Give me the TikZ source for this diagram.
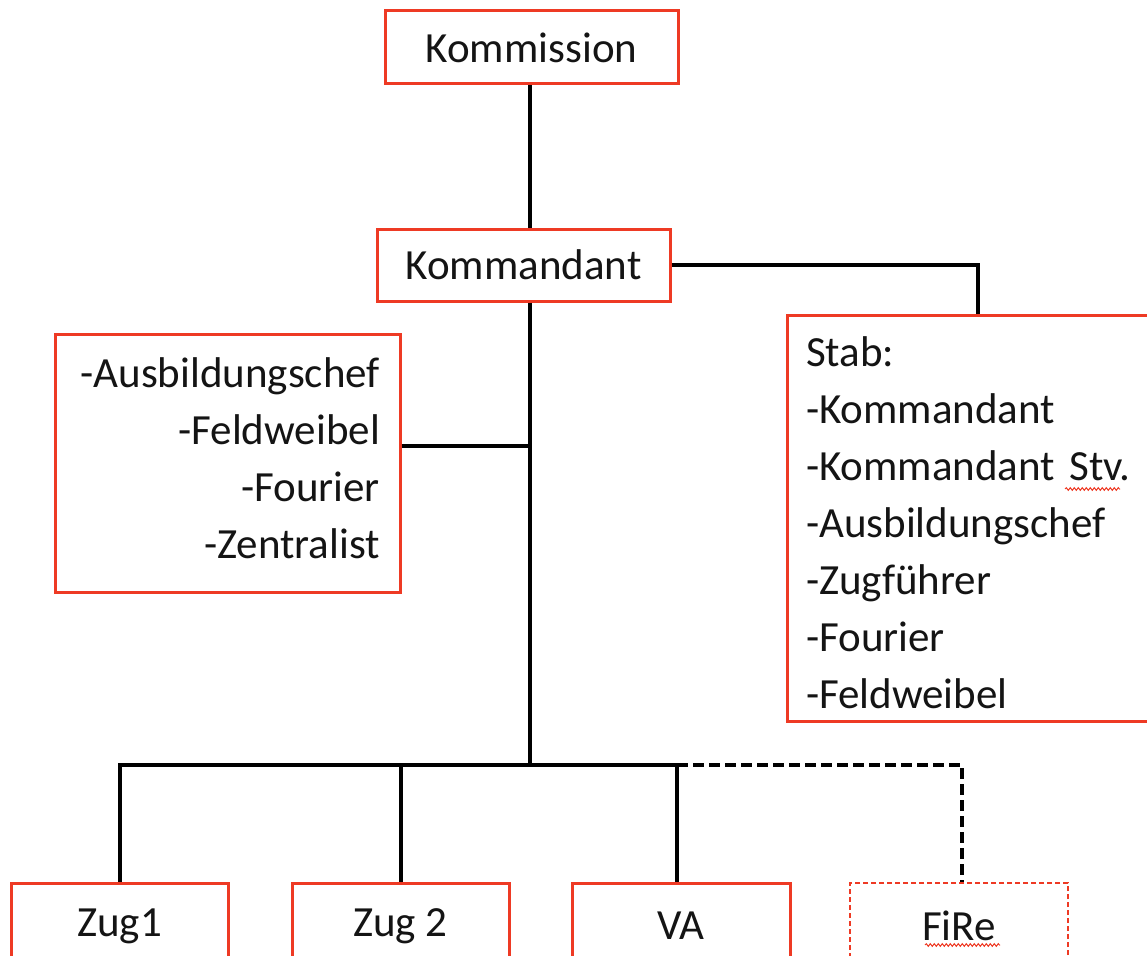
\documentclass[tikz,border=0pt]{standalone}
\usepackage{fontspec}
\setmainfont{Carlito}
\usetikzlibrary{decorations.pathmorphing}
\definecolor{boxred}{RGB}{238,58,36}
\definecolor{ink}{RGB}{20,20,20}
\begin{document}
\begin{tikzpicture}[x=1pt,y=-1pt,
  box/.style={draw=boxred, line width=3pt, fill=white, text=ink, inner sep=0pt,
    font=\fontsize{43}{57}\selectfont},
  dbox/.style={box, line width=2pt, dash pattern=on 5pt off 3pt},
  conn/.style={draw=black, line width=4.5pt},
  dconn/.style={conn, dash pattern=on 11pt off 5pt},
  squig/.style={draw=boxred, line width=1pt, decorate,
    decoration={snake, segment length=4pt, amplitude=1.3pt}}]
\useasboundingbox (0,0) rectangle (1147,955);
\clip (0,0) rectangle (1147,955);
\fill[white] (0,0) rectangle (1147,955);
% named points
\coordinate (spine) at (530,765);
\coordinate (lj) at (530,446);
\coordinate (sj) at (978,265);
\coordinate (b1) at (120,765);
\coordinate (b2) at (401,765);
\coordinate (b3) at (677,765);
\coordinate (fj) at (962,765);
% nodes
\node[box, minimum width=293pt, minimum height=73pt] (kom) at (531.5,47.5) {Kommission};
\node[box, minimum width=293pt, minimum height=72pt] (kdt) at (523.5,265) {Kommandant};
\node[box, minimum height=258pt, text width=305pt, inner xsep=20pt, align=right] (left) at (227.5,463)
  {-Ausbildungschef\\-Feldweibel\\-Fourier\\-Zentralist\rule[-10pt]{0pt}{10pt}};
\node[box, minimum height=406pt, text width=402pt, inner xsep=19pt, align=left] (stab) at (1007,518)
  {\rule{0pt}{40pt}Stab:\\-Kommandant\\-Kommandant Stv.\\-Ausbildungschef\\-Zugführer\\-Fourier\\-Feldweibel};
\node[box, minimum width=217pt, minimum height=86pt] (z1) at (119.5,926) {Zug1};
\node[box, minimum width=217pt, minimum height=86pt] (z2) at (400.5,926) {Zug 2};
\node[box, minimum width=218pt, minimum height=86pt] (va) at (681,926) {VA};
\node[dbox, minimum width=218pt, minimum height=86pt] (fire) at (959,926) {FiRe};
% connectors
\draw[conn] (kom.south -| spine) -- (kdt.north -| spine);
\draw[conn] (kdt.south -| spine) -- (spine);
\draw[conn] (kdt.east) -- (sj) -- (sj |- stab.north);
\draw[conn] (left.east |- lj) -- (lj);
\draw[conn, line cap=rect] (b1) -- (b3);
\draw[conn] (z1.north -| b1) -- (b1);
\draw[conn] (z2.north -| b2) -- (b2);
\draw[conn] (va.north -| b3) -- (b3);
\draw[dconn] (b3) -- (fj) -- (fire.north -| fj);
% spelling squiggles
\draw[squig] (1065,489) -- (1120,489);
\draw[squig] (925,945) -- (1000,945);
\end{tikzpicture}
\end{document}
